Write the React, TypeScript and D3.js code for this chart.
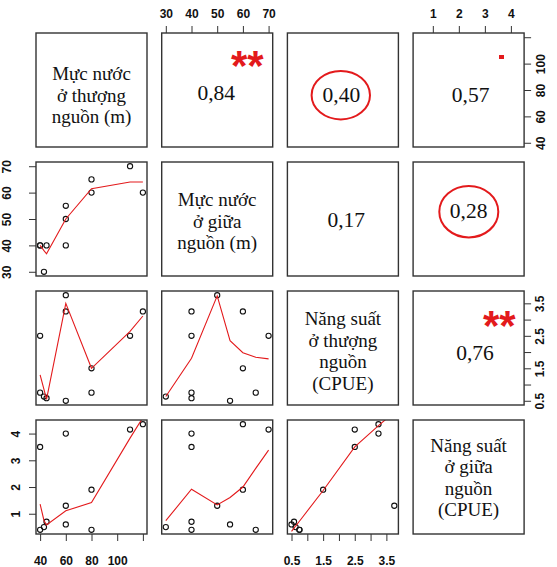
import React, { useEffect, useRef } from 'react';
import * as d3 from 'd3';

// observations (11 sites)
const mucNuocThuong = [40, 40, 43, 45, 60, 60, 60, 80, 80, 110, 120];
const mucNuocGiua = [40, 40, 30, 40, 40, 50, 55, 60, 65, 70, 60];
const nangSuatThuong = [2.5, 0.75, 0.63, 0.58, 3.25, 3.75, 0.5, 1.5, 0.75, 2.5, 3.25];
const nangSuatGiua = [3.5, 0.4, 0.5, 0.7, 4.0, 1.3, 0.6, 1.9, 0.4, 4.15, 4.35];

const variables = [mucNuocThuong, mucNuocGiua, nangSuatThuong, nangSuatGiua];

const diagLabels = [
    ['Mực nước', 'ở thượng', 'nguồn (m)'],
    ['Mực nước', 'ở giữa', 'nguồn (m)'],
    ['Năng suất', 'ở thượng', 'nguồn', '(CPUE)'],
    ['Năng suất', 'ở giữa', 'nguồn', '(CPUE)'],
];

// smoother lines
const smoothX1 = [40, 43, 45, 60, 80, 110, 120];
const smoothX2 = [30, 40, 50, 55, 60, 65, 70];
const smoothX3 = [0.5, 0.58, 0.63, 0.75, 1.5, 2.5, 3.25, 3.75];
const smooth21 = [40, 38, 36.8, 50, 61.5, 64, 64];
const smooth31 = [1.3, 0.85, 0.54, 3.5, 1.5, 2.64, 3.11];
const smooth41 = [1.36, 0.75, 0.58, 1.11, 1.42, 3.83, 4.6];
const smooth32 = [0.63, 1.81, 3.73, 2.35, 1.98, 1.84, 1.79];
const smooth42 = [0.74, 1.92, 1.33, 1.61, 2.0, 2.7, 3.38];
const smooth43 = [0.34, 0.46, 0.54, 0.72, 1.87, 3.5, 4.3, 4.8];

const smoothers = [
    { row: 1, col: 0, x: smoothX1, y: smooth21 },
    { row: 2, col: 0, x: smoothX1, y: smooth31 },
    { row: 3, col: 0, x: smoothX1, y: smooth41 },
    { row: 2, col: 1, x: smoothX2, y: smooth32 },
    { row: 3, col: 1, x: smoothX2, y: smooth42 },
    { row: 3, col: 2, x: smoothX3, y: smooth43 },
];

// correlation coefficients in the upper panels
const corrRow = [0, 0, 0, 1, 1, 2];
const corrCol = [1, 2, 3, 2, 3, 3];
const corrText = ['0,84', '0,40', '0,57', '0,17', '0,28', '0,76'];

// axis ticks
const ticks1 = [40, 60, 80, 100, 120];
const labels1 = ['40', '60', '80', '100', ''];
const ticks2 = [30, 40, 50, 60, 70];
const labels2 = ['30', '40', '50', '60', '70'];
const ticks3 = [0.5, 1, 1.5, 2, 2.5, 3, 3.5];
const labels3 = ['0.5', '', '1.5', '', '2.5', '', '3.5'];
const ticks4 = [1, 2, 3, 4];
const labels4 = ['1', '2', '3', '4'];

// layout
const W = 557, H = 567;
const PW = 111, PH = 114;
const colX = d3.range(4).map(i => 36 + i * 125.7);
const rowY = d3.range(4).map(i => 33 + i * 129);
const corrDx = [-1, -1.5, 2, 3.4, 0, 6.4];
const corrDy = [10, 11.7, 11.7, 8.3, -0.7, 11.5];
const diagDy = [11.5, 8.5, 9.5, 7];
const RED = '#e31a1c';

const PairsChart = () => {
    const svgRef = useRef<SVGSVGElement>(null);

    useEffect(() => {
        const svg = d3.select(svgRef.current);
        svg.selectAll('*').remove();

        const xs = variables.map((v, i) => {
            const [a, b] = d3.extent(v) as [number, number];
            const p = (b - a) * 0.04;
            return d3.scaleLinear().domain([a - p, b + p]).range([colX[i], colX[i] + PW]);
        });
        const ys = variables.map((v, i) => {
            const [a, b] = d3.extent(v) as [number, number];
            const p = (b - a) * 0.04;
            return d3.scaleLinear().domain([a - p, b + p]).range([rowY[i] + PH, rowY[i]]);
        });

        const defs = svg.append('defs');

        for (let r = 0; r < 4; r++) {
            for (let c = 0; c < 4; c++) {
                defs.append('clipPath').attr('id', `clip-${r}-${c}`)
                    .append('rect').attr('x', colX[c]).attr('y', rowY[r]).attr('width', PW).attr('height', PH);

                if (r > c) {
                    const g = svg.append('g').attr('clip-path', `url(#clip-${r}-${c})`);
                    g.selectAll('circle')
                        .data(d3.range(variables[0].length))
                        .join('circle')
                        .attr('cx', i => xs[c](variables[c][i]))
                        .attr('cy', i => ys[r](variables[r][i]))
                        .attr('r', 2.6)
                        .attr('fill', 'none')
                        .attr('stroke', '#111')
                        .attr('stroke-width', 1.1);
                }

                if (r === c) {
                    const lines = diagLabels[r];
                    const cx = colX[c] + PW / 2;
                    const cy = rowY[r] + PH / 2;
                    const t = svg.append('text')
                        .attr('text-anchor', 'middle')
                        .attr('font-family', '"Liberation Serif", "Times New Roman", serif')
                        .attr('font-size', 19)
                        .attr('fill', '#111');
                    lines.forEach((s, k) => {
                        t.append('tspan')
                            .attr('x', cx)
                            .attr('y', cy - (lines.length - 1) / 2 * 21.5 + diagDy[r] + k * 21.5)
                            .text(s);
                    });
                }
            }
        }

        // smoother lines
        const line = d3.line<[number, number]>();
        smoothers.forEach(s => {
            const pts = d3.zip(s.x, s.y).map(d => [xs[s.col](d[0]), ys[s.row](d[1])] as [number, number]);
            svg.append('path')
                .attr('clip-path', `url(#clip-${s.row}-${s.col})`)
                .attr('d', line(pts))
                .attr('fill', 'none')
                .attr('stroke', RED)
                .attr('stroke-width', 1.1);
        });

        // correlation text
        corrText.forEach((txt, i) => {
            const c = corrCol[i], r = corrRow[i];
            svg.append('text')
                .attr('x', colX[c] + PW / 2 + corrDx[i])
                .attr('y', rowY[r] + PH / 2 + corrDy[i])
                .attr('text-anchor', 'middle')
                .attr('font-family', '"Liberation Serif", "Times New Roman", serif')
                .attr('font-size', 21.5)
                .attr('fill', '#111')
                .text(txt);
        });

        // red highlights
        svg.append('ellipse').attr('cx', 340.8).attr('cy', 95.2).attr('rx', 29.2).attr('ry', 24.2)
            .attr('fill', 'none').attr('stroke', RED).attr('stroke-width', 2);
        svg.append('ellipse').attr('cx', 468.8).attr('cy', 211.7).attr('rx', 29.5).attr('ry', 25.7)
            .attr('fill', 'none').attr('stroke', RED).attr('stroke-width', 2);
        [[231, 80], [483, 340]].forEach(([x, y]) => {
            svg.append('text')
                .attr('x', x).attr('y', y)
                .attr('font-family', '"Liberation Sans", Arial, sans-serif')
                .attr('font-weight', 'bold')
                .attr('font-size', 42)
                .attr('fill', RED)
                .text('**');
        });
        svg.append('rect').attr('x', 499).attr('y', 55).attr('width', 5).attr('height', 4).attr('fill', RED);

        // frames
        for (let r = 0; r < 4; r++) {
            for (let c = 0; c < 4; c++) {
                svg.append('rect')
                    .attr('x', colX[c]).attr('y', rowY[r])
                    .attr('width', PW).attr('height', PH)
                    .attr('fill', 'none')
                    .attr('stroke', '#333')
                    .attr('stroke-width', 1.4);
            }
        }

        // axes
        const styleAxis = (g: any) => {
            g.select('.domain').remove();
            g.attr('font-family', '"Liberation Sans", Arial, sans-serif')
                .attr('font-size', 12)
                .attr('font-weight', 'bold');
            g.selectAll('.tick line').attr('stroke', '#333');
            g.selectAll('.tick text').attr('fill', '#111');
        };
        const fmt = (ticks: number[], labels: string[]) => (d: any) => labels[ticks.indexOf(d)];

        const addAxis = (axis: any, ticks: number[], labels: string[], tr: string, rotOffset?: number) => {
            const g = svg.append('g').attr('transform', tr)
                .call(axis.tickValues(ticks).tickSize(7).tickFormat(fmt(ticks, labels)));
            styleAxis(g);
            if (rotOffset !== undefined) {
                g.selectAll('.tick text')
                    .attr('transform', 'rotate(-90)')
                    .attr('x', 0)
                    .attr('y', rotOffset)
                    .attr('dy', 0)
                    .attr('text-anchor', 'middle');
            }
            return g;
        };

        addAxis(d3.axisTop(xs[1]).tickPadding(8), ticks2, labels2, `translate(0,${rowY[0]})`);
        addAxis(d3.axisTop(xs[3]).tickPadding(8), ticks4, labels4, `translate(0,${rowY[0]})`);
        addAxis(d3.axisBottom(xs[0]).tickPadding(15), ticks1, labels1, `translate(0,${rowY[3] + PH})`);
        addAxis(d3.axisBottom(xs[2]).tickPadding(15), ticks3, labels3, `translate(0,${rowY[3] + PH})`);
        addAxis(d3.axisRight(ys[0]), ticks1, labels1, `translate(${colX[3] + PW},0)`, 21);
        addAxis(d3.axisRight(ys[2]), ticks3, labels3, `translate(${colX[3] + PW},0)`, 19.5);
        addAxis(d3.axisLeft(ys[1]), ticks2, labels2, `translate(${colX[0]},0)`, -25);
        addAxis(d3.axisLeft(ys[3]), ticks4, labels4, `translate(${colX[0]},0)`, -16);
    }, []);

    return (
        <svg ref={svgRef} width={W} height={H}
            style={{ position: 'absolute', left: 0, top: 0, background: '#fff' }} />
    );
};

export default function App() {
    return <PairsChart />;
}
